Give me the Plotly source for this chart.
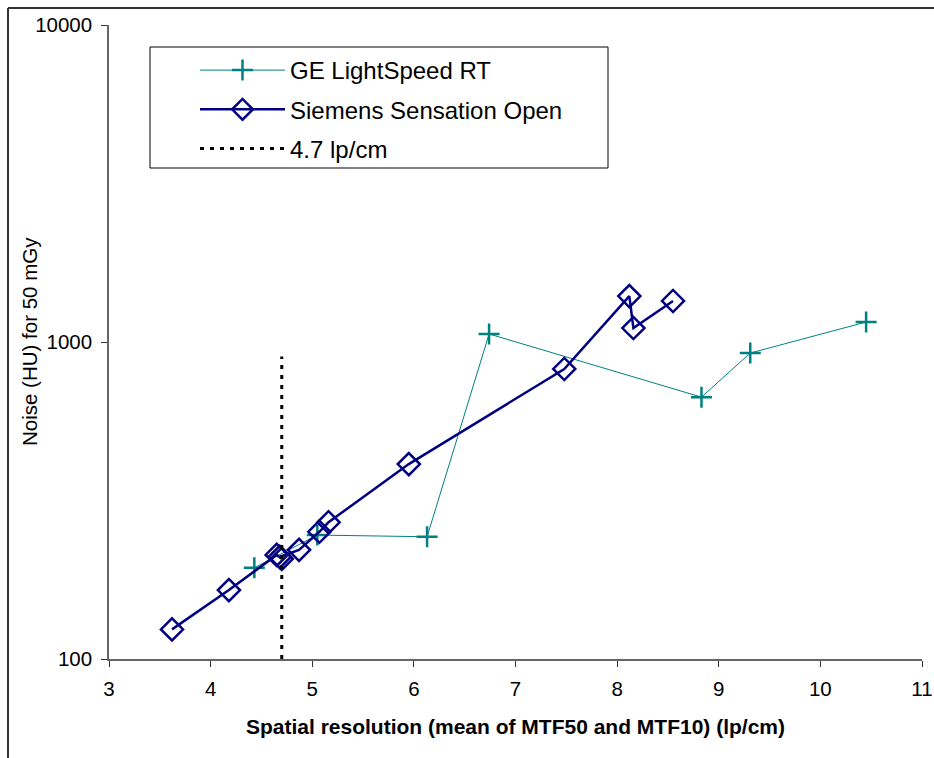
import plotly.graph_objects as go

# ---- data ----
ge_x = [4.43, 5.05, 6.13, 6.74, 8.83, 9.31, 10.45]
ge_y = [194, 246, 243, 1060, 670, 923, 1156]

siemens_x = [3.62, 4.18, 4.65, 4.70, 4.68, 4.87, 5.07, 5.16, 5.95, 7.48, 8.12, 8.16, 8.55]
siemens_y = [124, 165, 213, 207, 210, 221, 252, 270, 412, 822, 1396, 1107, 1347]

ref_x = [4.7, 4.7]
ref_y = [100, 900]

x_ticks = [3, 4, 5, 6, 7, 8, 9, 10, 11]
y_ticks = [100, 1000, 10000]

FONT = "Liberation Sans, Arial, sans-serif"
W, H = 934, 758
L, R, T, B = 109, 12, 25, 99
PW, PH = W - L - R, H - T - B


def px_x(px):
    return (px - L) / PW


def px_y(py):
    return (H - B - py) / PH


fig = go.Figure()
fig.add_trace(go.Scatter(
    x=ge_x, y=ge_y, mode="lines+markers", name="GE LightSpeed RT",
    line=dict(color="#008080", width=1),
    marker=dict(symbol="cross-thin", size=15, line=dict(color="#008080", width=2.5)),
    legendgroup="a",
))
fig.add_trace(go.Scatter(
    x=siemens_x, y=siemens_y, mode="lines+markers", name="Siemens Sensation Open",
    line=dict(color="#000080", width=2.5),
    marker=dict(symbol="diamond-open", size=17, color="#000080", line=dict(color="#000080", width=2.5)),
    legendgroup="b",
))
fig.add_trace(go.Scatter(
    x=ref_x, y=ref_y, mode="lines", name="4.7 lp/cm",
    line=dict(color="black", width=3, dash="4px,6px"),
    legendgroup="c",
))

# legend box + figure border
shapes = [
    dict(type="rect", xref="paper", yref="paper",
         x0=px_x(150), x1=px_x(608), y0=px_y(168), y1=px_y(47),
         line=dict(color="black", width=1), fillcolor="white", layer="below"),
    dict(type="line", xref="paper", yref="paper",
         x0=px_x(8), x1=px_x(940), y0=px_y(8), y1=px_y(8),
         line=dict(color="#333333", width=2)),
    dict(type="line", xref="paper", yref="paper",
         x0=px_x(8), x1=px_x(8), y0=px_y(8), y1=px_y(760),
         line=dict(color="#333333", width=2)),
]

annotations = [
    dict(text="Noise (HU) for 50 mGy", textangle=-90, xref="paper", yref="paper",
         x=px_x(29), y=px_y(342), xanchor="center", yanchor="middle", showarrow=False,
         font=dict(family=FONT, size=20.5, color="black")),
]

fig.update_layout(
    width=W, height=H,
    margin=dict(l=L, r=R, t=T, b=B, autoexpand=False),
    paper_bgcolor="white", plot_bgcolor="white",
    font=dict(family=FONT, color="black"),
    shapes=shapes,
    annotations=annotations,
    showlegend=True,
    legend=dict(
        x=px_x(195), y=px_y(48), xanchor="left", yanchor="top",
        bgcolor="rgba(0,0,0,0)", borderwidth=0,
        font=dict(family=FONT, size=24, color="black"),
        itemwidth=85, traceorder="grouped", tracegroupgap=5,
    ),
    xaxis=dict(
        range=[3, 11], tickvals=x_ticks, ticktext=[str(v) for v in x_ticks],
        showgrid=False, zeroline=False, showline=True, linecolor="#666666", linewidth=1.5,
        ticks="outside", ticklen=6, tickcolor="#333333", tickwidth=1,
        tickfont=dict(family=FONT, size=20.5), automargin=False, ticklabelstandoff=5,
        title=dict(text="<b>Spatial resolution (mean of MTF50 and MTF10) (lp/cm)</b>",
                   font=dict(family=FONT, size=21), standoff=20),
    ),
    yaxis=dict(
        type="log", range=[2, 4], tickvals=y_ticks, ticktext=[str(v) for v in y_ticks],
        showgrid=False, zeroline=False, showline=True, linecolor="#666666", linewidth=1.5,
        ticks="outside", ticklen=6, tickcolor="#333333", tickwidth=1,
        tickfont=dict(family=FONT, size=20.5), automargin=False, ticklabelstandoff=5,
    ),
)

fig.write_html("out.html")
